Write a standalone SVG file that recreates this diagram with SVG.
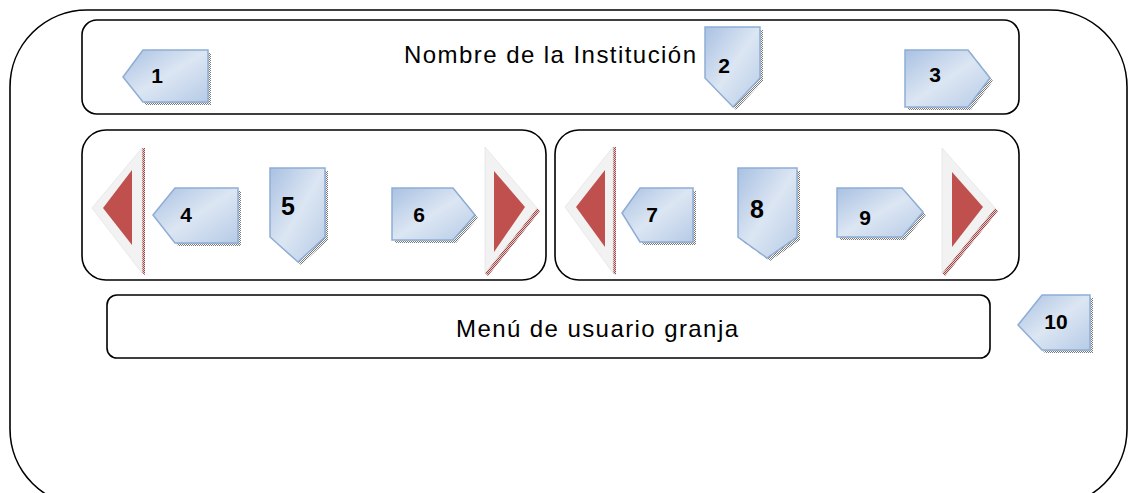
<svg xmlns="http://www.w3.org/2000/svg" width="1130" height="493" viewBox="0 0 1130 493">
<defs>
<linearGradient id="blue" x1="0" y1="0" x2="1" y2="1">
<stop offset="0" stop-color="#a9c1e2"/>
<stop offset="0.5" stop-color="#dce6f3"/>
<stop offset="1" stop-color="#b6cbe6"/>
</linearGradient>
<pattern id="dots" width="2" height="2" patternUnits="userSpaceOnUse">
<rect width="2" height="2" fill="#ffffff"/>
<rect width="1" height="1" fill="#7a7a7a"/>
<rect x="1" y="1" width="1" height="1" fill="#7a7a7a"/>
</pattern>
<pattern id="rdots" width="2" height="2" patternUnits="userSpaceOnUse">
<rect width="2" height="2" fill="#e8caca"/>
<rect width="1" height="1" fill="#9a4a48"/>
<rect x="1" y="1" width="1" height="1" fill="#9a4a48"/>
</pattern>
</defs>
<style>
.box{fill:none;stroke:#000;stroke-width:1.6}
.sh{fill:url(#dots);stroke:none}
.tag{fill:url(#blue);stroke:#8eadd6;stroke-width:1.5}
.rsh{fill:url(#rdots);stroke:none}
.tri{fill:#f2f2f2;stroke:#e4e4e4;stroke-width:0.8}
.red{fill:#c0504d}
.big{font-family:"Liberation Sans",Arial,sans-serif;font-size:24px;fill:#000;text-anchor:middle}
.lbl{font-family:"Liberation Sans",Arial,sans-serif;font-size:21px;font-weight:bold;fill:#000;text-anchor:middle}
.lbl2{font-family:"Liberation Sans",Arial,sans-serif;font-size:25px;font-weight:bold;fill:#000;text-anchor:middle}
</style>
<rect width="1130" height="493" fill="#ffffff"/>
<g id="frame"><rect class="box" x="10" y="10" width="1117" height="496" rx="77" ry="77"/></g>
<g id="header">
<rect class="box" x="82" y="20" width="937" height="94" rx="15" ry="15"/>
<text class="big" x="550" y="63" textLength="292" lengthAdjust="spacing">Nombre de la Institución</text>
</g>
<g id="panel-left"><rect class="box" x="82" y="130" width="464" height="150" rx="24" ry="24"/></g>
<g id="panel-right"><rect class="box" x="555" y="130" width="464" height="150" rx="24" ry="24"/></g>
<g id="menu">
<rect class="box" x="107" y="295" width="883" height="63" rx="10" ry="10"/>
<text class="big" x="597" y="337" textLength="282" lengthAdjust="spacing">Menú de usuario granja</text>
</g>
<g id="connectors"></g>
<g id="n1">
<path class="sh" d="M126,80 L146,53 L211,53 L211,105 L146,105 Z"/>
<path class="tag" d="M123,77 L143,50 L208,50 L208,102 L143,102 Z"/>
<text class="lbl" x="157" y="83">1</text>
</g>
<g id="n2">
<path class="sh" d="M708,30 L763,30 L763,81 L736,110 L708,81 Z"/>
<path class="tag" d="M705,27 L760,27 L760,78 L733,107 L705,78 Z"/>
<text class="lbl" x="724" y="73">2</text>
</g>
<g id="n3">
<path class="sh" d="M908,53 L971,53 L993,81 L971,110 L908,110 Z"/>
<path class="tag" d="M905,50 L968,50 L990,78 L968,107 L905,107 Z"/>
<text class="lbl" x="935" y="82">3</text>
</g>
<g id="t1">
<path class="rsh" d="M142,148 L145,148 L145,275 L142,273 Z"/>
<path class="tri" d="M92,208 L142,148 L142,273 Z"/>
<path class="red" d="M103,208 L132,170 L132,245 Z"/>
</g>
<g id="n4">
<path class="sh" d="M156,218 L178,191 L241,191 L241,246 L178,246 Z"/>
<path class="tag" d="M153,215 L175,188 L238,188 L238,243 L175,243 Z"/>
<text class="lbl" x="186" y="222">4</text>
</g>
<g id="n5">
<path class="sh" d="M273,171 L328,171 L328,240 L301,265 L273,240 Z"/>
<path class="tag" d="M270,168 L325,168 L325,237 L298,262 L270,237 Z"/>
<text class="lbl2" x="288" y="215">5</text>
</g>
<g id="n6">
<path class="sh" d="M395,191 L456,191 L478,218 L456,243 L395,243 Z"/>
<path class="tag" d="M392,188 L453,188 L475,215 L453,240 L392,240 Z"/>
<text class="lbl" x="419" y="222">6</text>
</g>
<g id="t2">
<path class="rsh" d="M537,208 L540,211 L488,276 L485,273 Z"/>
<path class="tri" d="M485,147 L537,208 L485,273 Z"/>
<path class="red" d="M494,171 L525,207 L494,252 Z"/>
</g>
<g id="t3">
<path class="rsh" d="M613,147 L616,147 L616,275 L613,273 Z"/>
<path class="tri" d="M565,207 L613,147 L613,273 Z"/>
<path class="red" d="M576,207 L605,170 L605,247 Z"/>
</g>
<g id="n7">
<path class="sh" d="M625,216 L643,191 L696,191 L696,245 L643,245 Z"/>
<path class="tag" d="M622,213 L640,188 L693,188 L693,242 L640,242 Z"/>
<text class="lbl" x="652" y="222">7</text>
</g>
<g id="n8">
<path class="sh" d="M741,171 L800,171 L800,240 L770,261 L741,240 Z"/>
<path class="tag" d="M738,168 L797,168 L797,237 L767,258 L738,237 Z"/>
<text class="lbl2" x="757" y="218">8</text>
</g>
<g id="n9">
<path class="sh" d="M840,191 L905,191 L926,215 L905,240 L840,240 Z"/>
<path class="tag" d="M837,188 L902,188 L923,212 L902,237 L837,237 Z"/>
<text class="lbl" x="865" y="225">9</text>
</g>
<g id="t4">
<path class="rsh" d="M995,208 L998,211 L945,276 L942,273 Z"/>
<path class="tri" d="M942,148 L995,208 L942,273 Z"/>
<path class="red" d="M952,172 L983,207 L952,247 Z"/>
</g>
<g id="n10">
<path class="sh" d="M1021,328 L1045,298 L1093,298 L1093,353 L1045,353 Z"/>
<path class="tag" d="M1018,325 L1042,295 L1090,295 L1090,350 L1042,350 Z"/>
<text class="lbl" x="1056" y="329">10</text>
</g>
</svg>
